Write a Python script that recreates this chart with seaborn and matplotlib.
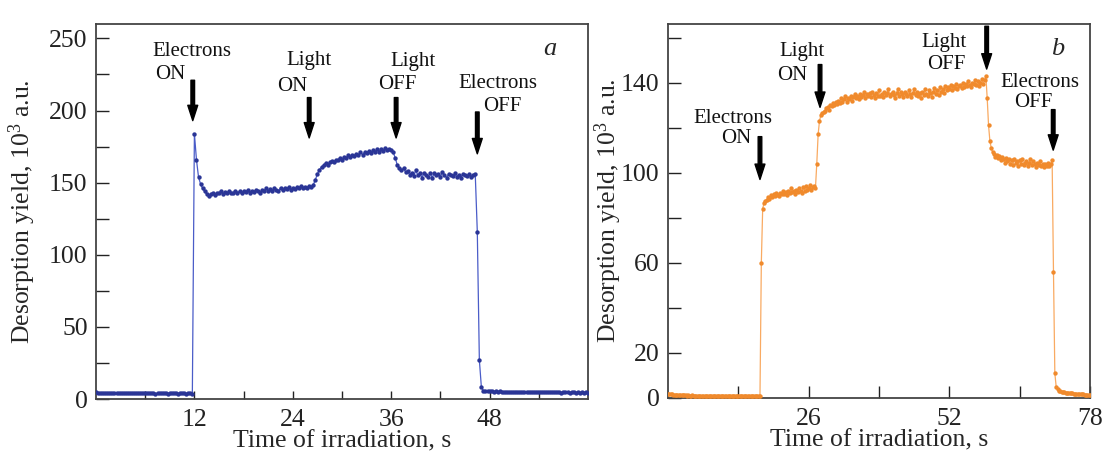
import numpy as np
import pandas as pd
import matplotlib
matplotlib.use("Agg")
import matplotlib.pyplot as plt
import seaborn as sns

# ---------------- data ----------------
step_a = 0.25
yield_a = [
    4.6, 4.4, 4.3, 4.5, 4.2, 4.4, 4.1, 4.3, 4.2, 4.0, 4.3, 4.1,
    4.2, 4.4, 4.0, 4.2, 4.1, 4.3, 3.9, 4.2, 4.0, 4.1, 4.3, 4.0,
    4.1, 3.9, 4.2, 4.0, 4.1, 3.8, 4.0, 4.2, 3.9, 4.1, 4.0, 3.8,
    4.1, 3.9, 4.0, 4.2, 3.8, 4.0, 3.9, 4.1, 3.8, 4.0, 3.9, 3.8,
    184, 166, 154, 149, 146, 144, 142, 141,
    142, 143, 141.5, 143, 142.5, 144, 142, 143.5, 142.5, 144,
    143, 142.5, 144.5, 143, 144, 142.5, 144, 143.5, 145, 143,
    144.5, 143.5, 145, 144, 143, 145, 144.5, 146, 144, 145.5,
    144.5, 146, 145, 144, 146.5, 145, 146, 145.5, 147, 145,
    146.5, 145.5, 147, 146, 147.5, 146, 147, 146.5, 148, 147,
    148.5, 152, 156, 159, 161, 162, 163.5, 162.5, 164.5, 165, 164, 166,
    165.5, 167, 166, 168, 167, 169, 167.5, 169.5, 168.5, 170,
    169, 171, 169.5, 171, 170.5, 172, 170.5, 172.5, 171, 173,
    171.5, 173, 172, 174, 172.5, 173.5,
    172.5, 171,
    167, 162, 160, 158.5, 160, 157.5,
    158, 155.5, 157, 154.5, 158.5, 155, 156.5, 153.5, 157, 155,
    154, 156.5, 153.5, 157, 155, 156, 154, 157.5, 155, 153.5,
    156, 155, 154.5, 156.5, 154, 155.5, 153.5, 156, 155, 154.5,
    156, 154, 155.5, 156,
    116, 27, 8, 5.8,
    5.5, 5.4, 5.3, 5.5, 5.2, 5.3, 5.1, 5.3, 5.2, 5.0,
    5.2, 5.1, 4.9, 5.1, 5.0, 5.2, 4.9, 5.0, 4.8, 5.0,
    4.9, 5.1, 4.8, 4.9, 5.0, 4.8, 4.9, 4.7, 4.9, 4.8,
    4.6, 4.8, 4.7, 4.9, 4.6, 4.8, 4.7, 4.5, 4.7, 4.6,
    4.8, 4.5, 4.7, 4.6, 4.4, 4.6, 4.5, 4.7, 4.4, 4.6, 4.5,
]

step_b = 0.25
yield_b = [
    1.9, 1.7, 1.6, 1.6, 1.5, 1.4, 1.5, 1.3, 1.4, 1.3,
    1.2, 1.3, 1.2, 1.2, 1.1, 1.2, 1.1, 1.1, 1.2, 1.0,
    1.1, 1.0, 1.1, 1.0, 1.0, 1.1, 0.9, 1.0, 1.0, 0.9,
    1.0, 0.9, 1.0, 0.9, 0.9, 1.0, 0.9, 0.9, 0.8, 0.9,
    0.9, 0.8, 0.9, 0.8, 0.9, 0.8, 0.8, 0.9, 0.8, 0.8,
    0.9, 0.8, 0.8, 0.7, 0.8, 0.8, 0.7, 0.8, 0.8, 0.7,
    0.8, 0.7, 0.8, 0.7, 0.7, 0.8, 0.7, 0.7, 0.8,
    60, 84, 86.5, 87.5, 88, 89,
    88.5, 90, 89, 90.5, 89.5, 91, 90, 89.5, 91, 90.5,
    92, 90.5, 91.5, 90, 92, 91, 93, 91.5, 92, 90.5,
    92.5, 91.5, 93, 92, 91, 93.5, 92, 94, 92.5, 93,
    94.5, 92.5, 93.5, 94, 93,
    104, 117, 123, 125.5, 126.5, 127,
    127.5, 128.5, 129, 128, 130, 129.5, 131, 130, 131.5, 130.5,
    132, 131, 133, 131.5, 132.5, 134, 131.5, 133, 132.5, 134,
    132, 133.5, 135, 133, 134, 132.5, 135, 133.5, 134.5, 136,
    133, 135, 134, 135.5, 133.5, 136, 134.5, 133, 135.5, 134,
    136.5, 134, 135, 133.5, 136, 134.5, 135.5, 137, 134, 135,
    136, 134.5, 133, 135.5, 137, 134, 136, 135, 133.5, 136,
    135, 134, 136.5, 135, 133.5, 135.5, 137, 134.5, 136, 134,
    135.5, 133, 136, 134.5, 137, 135, 134, 136.5, 135.5, 133.5,
    136, 137.5, 135, 136.5, 134.5, 138, 136, 137, 135.5, 138.5,
    136.5, 138, 137, 139, 136.5, 138.5, 137.5, 139.5, 137, 138.5,
    139, 137.5, 140, 138, 139.5, 138.5, 140.5, 139, 138, 140,
    139.5, 141, 139, 140.5, 138.5, 140, 141.5, 139.5, 141,
    143, 133, 121, 114, 111, 109,
    108.5, 107, 108, 106.5, 107.5, 105.5, 107, 106, 104.5, 106.5,
    105, 106, 104, 105.5, 103.5, 106, 104.5, 105, 103, 105.5,
    104, 106, 103.5, 104.5, 105, 103, 104.5, 106, 103.5, 105,
    104, 102.5, 104.5, 103.5, 105, 103, 104, 102.5, 104, 103,
    104.5, 103, 104, 105.5,
    56, 11, 5, 3.8,
    3.2, 2.9, 2.8, 2.6, 2.5, 2.4, 2.3, 2.2, 2.1, 2.1,
    2.0, 1.9, 1.9, 1.8, 1.8, 1.7, 1.7, 1.6, 1.6, 1.5,
    1.5, 1.5, 1.4, 1.4,
]

time_a = np.arange(len(yield_a)) * step_a
time_b = np.arange(len(yield_b)) * step_b

xticks_a = [12, 24, 36, 48]
xminor_a = [6, 18, 30, 42, 54]
yticks_a = [0, 50, 100, 150, 200, 250]
yminor_a = [25, 75, 125, 175, 225]

xticks_b = [26, 52, 78]
xminor_b = [13, 39, 65]
yticks_b = [0, 20, 60, 100, 140]
yminor_b = [40, 80, 120, 160]

events_a = [("Electrons", "ON"), ("Light", "ON"), ("Light", "OFF"), ("Electrons", "OFF")]
events_b = [("Electrons", "ON"), ("Light", "ON"), ("Light", "OFF"), ("Electrons", "OFF")]

df_a = pd.DataFrame({"t": time_a, "y": yield_a})
df_b = pd.DataFrame({"t": time_b, "y": yield_b})

# ---------------- style ----------------
sns.set_style("ticks")
plt.rcParams["font.family"] = ["Liberation Serif", "DejaVu Serif"]
plt.rcParams["mathtext.fontset"] = "custom"
plt.rcParams["mathtext.rm"] = "Liberation Serif"
plt.rcParams["mathtext.it"] = "Liberation Serif:italic"

fig = plt.figure(figsize=(11.05, 4.58), dpi=100)
fig.patch.set_facecolor("white")

W, H = 1105, 458
ax_a = fig.add_axes([96 / W, (H - 399) / H, 492 / W, 375 / H])
ax_b = fig.add_axes([668 / W, (H - 398) / H, 422 / W, 374 / H])

LINE_A, DOT_A = "#4a5cc8", "#2a3596"
LINE_B, DOT_B = "#f9aa62", "#f08a2c"

for ax, df, lc, dc in [(ax_a, df_a, LINE_A, DOT_A), (ax_b, df_b, LINE_B, DOT_B)]:
    sns.lineplot(data=df, x="t", y="y", ax=ax, color=lc, lw=0.9, zorder=2)
    sns.scatterplot(data=df, x="t", y="y", ax=ax, color=dc, s=10, linewidth=0, zorder=3)

def style_axes(ax, xlim, ylim, xt, xm, yt, ym, xtl):
    ax.set_xlim(*xlim)
    ax.set_ylim(*ylim)
    ax.set_xticks(xt)
    ax.set_xticks(xm, minor=True)
    ax.set_yticks(yt)
    ax.set_yticks(ym, minor=True)
    ax.set_xticklabels([str(v) for v in xt])
    ax.set_yticklabels([str(v) for v in yt])
    ax.tick_params(axis="both", which="both", direction="in", width=1.0,
                   colors="#222222", labelsize=18.5, top=False, right=False)
    ax.tick_params(axis="x", which="both", length=xtl, pad=7)
    ax.tick_params(axis="y", which="both", length=9, pad=6)
    for s in ax.spines.values():
        s.set_color("#444444")
        s.set_linewidth(1.3)
    ax.set_xlabel("Time of irradiation, s", fontsize=18.5, labelpad=0)
    ax.set_facecolor("white")

style_axes(ax_a, (0, 60), (0, 260), xticks_a, xminor_a, yticks_a, yminor_a, 6)
style_axes(ax_b, (0, 78), (0, 166), xticks_b, xminor_b, yticks_b, yminor_b, 9)
ax_a.set_ylabel("Desorption yield, 10$^{3}$ a.u.", fontsize=18.5, labelpad=8)
ax_b.set_ylabel("Desorption yield, 10$^{3}$ a.u.", fontsize=18.5, labelpad=-2)

# ---------------- annotations ----------------
AFS = 15
arrow_kw = dict(arrowstyle="simple,head_width=0.55,head_length=0.85,tail_width=0.2",
                color="black", mutation_scale=13, shrinkA=0, shrinkB=0)

def annot(ax, words, word_pos, arrow_x, y_from, y_to):
    (w1, w2) = words
    (p1, p2) = word_pos
    ax.text(p1[0], p1[1], w1, fontsize=AFS, ha="center", va="center", color="#111111")
    ax.text(p2[0], p2[1], w2, fontsize=AFS, ha="center", va="center", color="#111111")
    ax.annotate("", xy=(arrow_x, y_to), xytext=(arrow_x, y_from), arrowprops=arrow_kw)

# panel a
annot(ax_a, events_a[0], [(11.7, 241), (9.1, 225)], 11.8, 221, 193)
annot(ax_a, events_a[1], [(26.0, 235), (23.9, 217)], 26.0, 209, 181)
annot(ax_a, events_a[2], [(38.6, 234), (36.8, 218)], 36.6, 209, 181)
annot(ax_a, events_a[3], [(49.0, 219), (49.6, 203)], 46.5, 199, 170)
ax_a.text(55.4, 243, "a", fontsize=19, style="italic", ha="center", va="center")

# panel b
annot(ax_b, events_b[0], [(12.0, 124), (12.6, 115)], 17.0, 116, 97)
annot(ax_b, events_b[1], [(24.7, 154), (22.9, 143)], 28.1, 148, 129)
annot(ax_b, events_b[2], [(51.0, 158), (51.5, 148)], 58.9, 165, 146)
annot(ax_b, events_b[3], [(68.8, 140), (67.5, 131)], 71.2, 128, 110)
ax_b.text(72.1, 155, "b", fontsize=19, style="italic", ha="center", va="center")

fig.savefig("out.png", dpi=100, facecolor="white")
